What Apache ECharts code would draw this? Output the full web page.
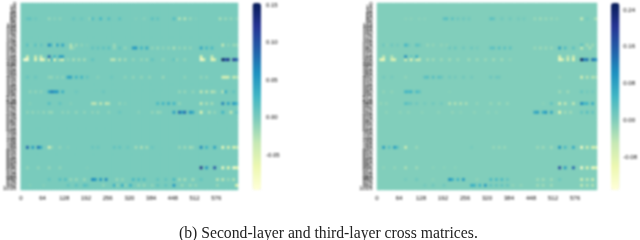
<!DOCTYPE html>
<html>
<head>
<meta charset="utf-8">
<style>
html,body{margin:0;padding:0;background:#fff;overflow:hidden}
#c{position:absolute;left:0;top:0;width:640px;height:240px;filter:blur(0.85px)}
#t{position:absolute;left:0;top:0;width:640px;height:240px}
</style>
<script src="https://cdn.jsdelivr.net/npm/echarts@6/dist/echarts.min.js"></script>
</head>
<body>
<div id="c"></div>
<div id="t"></div>
<script>
var xLabels = [];
for (var i = 0; i < 80; i++) xLabels.push(String(i * 8));
var yLabels = [];
for (var j = 0; j < 63; j++) yLabels.push(String(j * 16));
yLabels.push('1016');

var ylgnbu = ['#ffffd9','#edf8b1','#c7e9b4','#7fcdbb','#41b6c4','#1d91c0','#225ea8','#253494','#081d58'];

var leftRange = [-0.097, 0.153];
var rightRange = [-0.151, 0.255];
var leftTicks = [-0.05, 0, 0.05, 0.10, 0.15];
var rightTicks = [-0.08, 0, 0.08, 0.16, 0.24];
var caption = '(b) Second-layer and third-layer cross matrices.';

// left matrix: [column, value] for the non-zero cells of each row
var L05 = [[2,.01],[3,.012],[5,.006],[10,-.014],[12,-.008],[14,-.01],[19,.01],[22,.008],[25,-.012],[26,.02],[29,.028],[32,.02],[36,.015],[42,-.005],[45,-.008],[48,.016],[50,.012],[56,.02],[58,-.028],[60,-.028],[62,-.014],[64,-.005],[73,-.022],[75,-.016],[77,-.014],[79,-.008]];
var L14 = [[2,.016],[3,-.006],[5,.016],[6,-.006],[7,.012],[10,.065],[11,.02],[12,-.012],[13,.045],[15,.045],[18,-.028],[20,-.016],[22,-.01],[24,-.005],[34,-.016],[74,-.035],[76,-.01],[78,-.016],[79,-.012]];
var L15 = [[18,-.025],[19,-.012],[26,.012],[28,.012],[30,.014],[32,.016],[34,-.014],[36,.012],[38,-.012],[41,.05],[42,.055],[44,.03],[46,.04],[48,-.012],[50,-.014],[52,-.01],[54,-.012],[56,-.025],[58,-.012],[60,-.015],[62,-.012],[66,.045],[68,.025],[70,.025]];
var L18 = [[2,-.05],[5,-.04],[7,-.04],[10,.085],[12,.03],[14,.05],[15,.05],[66,-.06],[70,-.04]];
var L19 = [[1,-.09],[2,-.09],[5,-.07],[7,-.08],[8,-.06],[10,-.04],[11,.03],[12,-.065],[14,-.03],[15,-.05],[17,-.012],[19,-.022],[21,-.02],[23,-.02],[26,.012],[33,-.03],[34,-.03],[36,-.025],[38,-.02],[41,-.012],[44,-.012],[46,-.014],[48,.012],[52,-.012],[56,.012],[57,-.012],[60,-.012],[66,-.085],[67,-.06],[70,-.07],[71,-.05],[74,.15],[75,.1],[76,.13],[78,.12],[79,.09]];
var L25 = [[2,.01],[5,.008],[10,-.012],[11,-.012],[13,-.01],[15,-.01],[17,.045],[18,.045],[20,.03],[22,.03],[24,.012],[28,-.008],[33,.006],[38,-.01],[41,-.012],[44,-.012],[47,-.012],[52,-.016],[60,-.01],[66,-.012],[68,-.012],[74,-.045],[75,-.05],[76,-.04],[78,-.04],[79,-.025]];
var L30 = [[3,-.012],[5,-.012],[7,-.01],[10,.045],[11,.07],[12,.055],[13,.055],[15,.035],[20,.006],[30,.008],[58,-.014],[60,-.014],[63,-.012],[66,-.035],[68,-.03],[70,-.03],[71,-.02],[74,-.03],[75,.035],[78,.012]];
var L34 = [[3,-.006],[10,.018],[14,.012],[18,-.006],[26,-.03],[27,-.03],[29,-.032],[31,-.032],[32,-.025],[36,-.012],[38,-.006],[50,.025],[52,.03],[54,.035],[56,.03],[58,-.012],[66,-.035],[68,-.022],[70,-.02],[74,.07],[76,.045],[78,.055],[79,.03]];
var L37 = [[2,-.01],[4,-.012],[6,-.008],[8,-.012],[10,-.012],[11,-.014],[15,-.01],[17,-.01],[20,-.012],[23,-.01],[26,-.01],[28,-.012],[32,-.01],[36,.008],[43,-.008],[48,-.012],[50,-.014],[51,-.01],[56,.05],[58,.085],[59,.05],[60,.085],[62,.055],[63,.04],[66,-.065],[69,-.022],[71,-.012],[74,.03],[77,-.035],[79,.012]];
var L49 = [[2,.085],[4,.05],[6,.075],[7,.04],[10,-.05],[11,-.012],[14,-.012],[17,-.006],[26,.008],[28,.008],[34,.012],[36,.012],[39,.008],[42,-.02],[44,-.025],[46,-.02],[48,.008],[58,-.015],[60,-.018],[62,-.02],[63,-.012],[66,.065],[68,.03],[71,.045],[74,-.07],[76,-.05],[78,-.055],[79,-.03]];
var L56 = [[2,-.012],[6,-.012],[10,-.014],[14,-.012],[24,-.004],[66,.13],[68,.055],[71,.1],[74,-.075],[76,-.065],[78,-.085],[79,-.06]];
var L60 = [[10,.012],[14,.018],[16,.018],[18,-.014],[20,-.016],[23,-.016],[26,.065],[27,.055],[29,.055],[31,.065],[35,-.016],[37,-.012],[41,.025],[43,.022],[45,.022],[50,.012],[53,.012],[56,.025],[58,-.02],[60,-.022],[63,-.02],[66,.012],[72,-.03],[74,-.032],[76,-.015],[78,-.025]];
var L62 = [[3,-.006],[8,-.006],[17,.012],[20,.014],[23,.018],[24,.012],[30,-.012],[34,.035],[35,-.012],[37,.035],[38,-.012],[40,.03],[43,-.014],[45,-.014],[48,-.012],[50,.012],[53,.012],[56,.055],[59,-.015],[62,-.015],[64,-.012],[72,-.014],[79,-.05]];

// right matrix
var R05 = [[10,-.008],[12,-.008],[15,-.008],[17,-.008],[24,.03],[25,.035],[27,.03],[29,.018],[31,.018],[33,.015],[41,.035],[42,.025],[45,.015],[48,.015],[51,.012],[53,.012],[57,-.018],[59,-.022],[61,-.018],[63,-.015],[65,-.012],[74,-.05],[76,.012],[79,-.03]];
var R14 = [[2,.016],[3,-.006],[5,.016],[7,.012],[10,.055],[11,.02],[14,.032],[15,.02],[18,-.016],[20,-.012],[23,-.012],[25,-.01],[74,.03],[76,-.025],[78,-.02]];
var R15 = [[26,.018],[28,.02],[31,.016],[34,.018],[36,.012],[41,.03],[42,.03],[44,.035],[46,.03],[48,.03],[57,-.018],[59,-.022],[61,-.02],[63,-.018],[66,.085],[68,.04],[71,.03],[74,-.05],[77,-.03]];
var R18 = [[2,-.05],[5,-.04],[10,.11],[12,.02],[14,.065],[66,-.08],[69,-.045],[71,-.055]];
var R19 = [[1,-.11],[2,-.11],[5,-.08],[6,-.08],[10,-.065],[12,-.09],[14,-.055],[15,-.055],[18,-.025],[20,-.022],[23,-.02],[26,-.022],[29,-.018],[33,-.022],[36,-.02],[39,-.018],[42,-.022],[45,-.022],[48,-.012],[66,-.12],[67,-.08],[69,-.08],[71,-.1],[74,.25],[75,.12],[76,.14],[78,.14],[79,.11]];
var R25 = [[2,.012],[5,.01],[10,-.012],[17,.03],[18,.035],[20,.035],[22,.03],[23,.022],[26,.014],[28,.012],[31,.014],[34,.012],[41,.018],[43,.016],[44,.014],[66,-.012],[74,-.07],[76,-.04],[78,-.04],[79,-.025]];
var R30 = [[2,-.012],[5,-.012],[10,.055],[11,.045],[12,.055],[14,.045],[15,.03],[26,-.004],[66,-.022],[69,-.022],[74,.022],[76,.012],[78,.012]];
var R34 = [[1,-.012],[3,-.012],[10,.035],[11,.022],[12,.016],[14,.016],[17,.012],[20,.014],[23,.012],[26,-.035],[28,-.032],[30,-.032],[32,-.028],[36,-.012],[41,-.016],[44,-.018],[47,-.016],[60,-.006],[63,.025],[66,-.07],[68,-.045],[71,-.045],[74,.11],[75,.05],[76,.055],[78,.065]];
var R37 = [[3,-.01],[8,-.01],[11,-.01],[16,-.008],[22,-.01],[27,-.012],[30,-.008],[35,-.01],[40,-.01],[43,-.008],[57,.075],[58,.085],[60,.065],[61,.1],[63,.075],[66,-.1],[68,-.022],[70,-.022],[74,.025],[76,.035],[78,.025]];
var R49 = [[2,.085],[4,.035],[6,.085],[7,.035],[10,-.055],[14,-.018],[34,.008],[42,-.016],[44,-.018],[46,-.016],[58,-.02],[60,-.022],[63,-.022],[66,.1],[68,.045],[71,.07],[74,-.12],[76,-.065],[78,-.075],[79,-.055]];
var R56 = [[2,-.01],[6,-.014],[10,-.032],[14,-.022],[20,-.007],[24,-.007],[28,-.007],[66,.18],[68,.09],[71,.15],[74,-.13],[76,-.09],[78,-.12],[79,-.08]];
var R60 = [[10,.01],[14,.016],[20,-.008],[26,.1],[27,.065],[29,.055],[31,.09],[36,-.012],[41,.045],[43,.045],[45,.045],[47,.025],[58,-.022],[60,-.024],[63,-.022],[66,.016],[74,-.065],[76,-.045],[78,-.055]];
var R62 = [[17,.012],[20,.014],[24,.014],[34,.065],[35,.055],[37,.055],[39,.09],[41,.024],[43,.024],[45,.024],[47,.022],[49,-.012],[52,-.012],[58,-.022],[60,-.022],[63,-.022],[74,-.045],[76,-.035],[78,-.035]];

function matrix(rows) {
  var out = [];
  for (var r = 0; r < yLabels.length; r++) {
    var cells = {};
    (rows[r] || []).forEach(function (p) { cells[p[0]] = p[1]; });
    for (var c = 0; c < xLabels.length; c++) out.push([c, r, cells[c] || 0]);
  }
  return out;
}
var leftData = matrix({5:L05,14:L14,15:L15,18:L18,19:L19,25:L25,30:L30,34:L34,37:L37,49:L49,56:L56,60:L60,62:L62});
var rightData = matrix({5:R05,14:R14,15:R15,18:R18,19:R19,25:R25,30:R30,34:R34,37:R37,49:R49,56:R56,60:R60,62:R62});

var textColor = '#000';
var labelFont = 'Liberation Sans';
function catX(g) {
  return {type:'category',gridIndex:g,data:xLabels,axisLine:{show:false},axisTick:{show:false},splitLine:{show:false},
    axisLabel:{interval:7,fontSize:6,fontFamily:labelFont,color:textColor,margin:5,padding:[0,2.75,0,0],hideOverlap:false}};
}
function catY(g) {
  return {type:'category',gridIndex:g,data:yLabels,inverse:true,axisLine:{show:false},axisTick:{show:false},splitLine:{show:false},
    axisLabel:{interval:0,fontSize:6,fontFamily:labelFont,color:textColor,margin:4.5,padding:[0,0,3,0],hideOverlap:false}};
}
function barX(g) { return {type:'value',gridIndex:g,show:false,min:0,max:1}; }
function barY(g, range, ticks) {
  return {type:'value',gridIndex:g,position:'right',min:range[0],max:range[1],axisLine:{show:false},axisTick:{show:false},splitLine:{show:false},
    axisLabel:{show:true,fontSize:6,fontFamily:labelFont,color:textColor,margin:5,hideOverlap:false,showMinLabel:true,showMaxLabel:true,
      customValues:ticks,formatter:function(v){return v.toFixed(2);}}};
}
function vm(idx, range, left) {
  return {type:'continuous',seriesIndex:idx,min:range[0],max:range[1],calculable:false,realtime:false,text:null,showLabel:false,
    orient:'vertical',left:left,top:3,itemWidth:8.5,itemHeight:187,padding:0,inRange:{color:ylgnbu}};
}
function heat(g, data) {
  return {type:'heatmap',xAxisIndex:g,yAxisIndex:g,data:data,progressive:0,animation:false,silent:true,itemStyle:{borderWidth:0},emphasis:{disabled:true}};
}

var chart = echarts.init(document.getElementById('c'), null, {renderer:'canvas',width:640,height:240});
chart.setOption({
  animation:false,
  grid:[
    {left:18,top:3,width:220,height:187,show:true,borderWidth:0,backgroundColor:'#79cbbc'},
    {left:377,top:3,width:220,height:187,show:true,borderWidth:0,backgroundColor:'#81cebb'},
    {left:252.5,top:3,width:8.5,height:187},
    {left:611,top:3,width:8.5,height:187}
  ],
  xAxis:[catX(0),catX(1),barX(2),barX(3)],
  yAxis:[catY(0),catY(1),barY(2,leftRange,leftTicks),barY(3,rightRange,rightTicks)],
  visualMap:[vm(0,leftRange,252.5),vm(1,rightRange,611)],
  series:[heat(0,leftData),heat(1,rightData)]
});
var capChart = echarts.init(document.getElementById('t'), null, {renderer:'canvas',width:640,height:240});
capChart.setOption({
  animation:false,
  title:{text:caption,left:179,top:226,padding:0,textStyle:{fontFamily:'Liberation Serif',fontWeight:'normal',fontSize:15.7,color:'#222',lineHeight:15}}
});
</script>
</body>
</html>
